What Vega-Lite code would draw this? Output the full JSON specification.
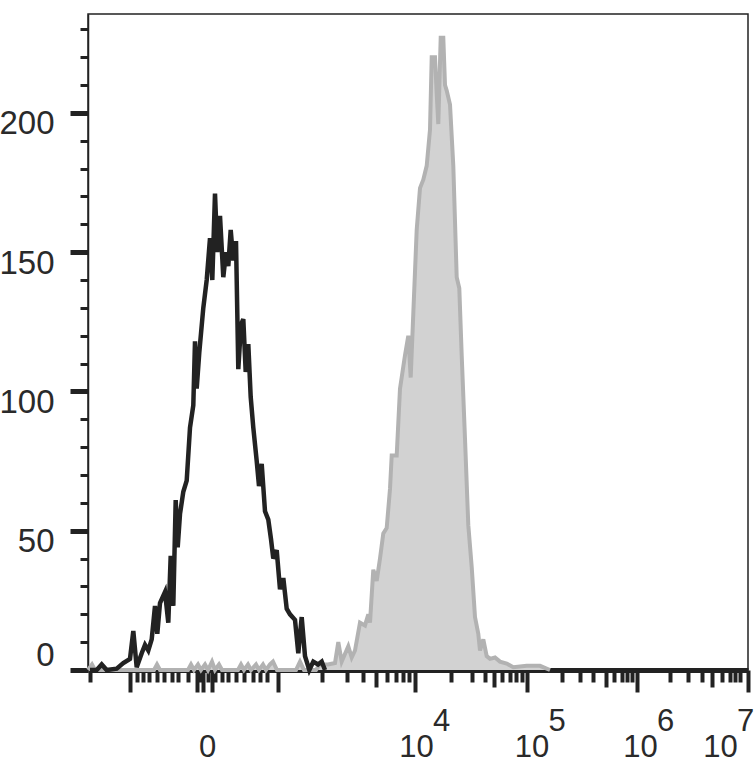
{
  "$schema": "https://vega.github.io/schema/vega-lite/v6.json",
  "width": 660,
  "height": 656,
  "autosize": {"type": "none"},
  "padding": {"left": 88, "top": 14, "right": 8, "bottom": 110},
  "background": "white",
  "config": {
    "view": {"stroke": "#222222", "strokeWidth": 1.5},
    "axis": {"grid": false, "title": null, "labelFont": "Liberation Sans Narrow, Liberation Sans, sans-serif", "labelColor": "#2a2a2a", "labelOverlap": false, "labelFlush": false}
  },
  "datasets": {
    "stained": [
      {"ch": 0, "count": 0}, {"ch": 4, "count": 2}, {"ch": 7, "count": 0}, {"ch": 66, "count": 0}, {"ch": 69, "count": 2}, {"ch": 72, "count": 0},
      {"ch": 100, "count": 0}, {"ch": 103, "count": 2}, {"ch": 106, "count": 0}, {"ch": 110, "count": 2}, {"ch": 113, "count": 0}, {"ch": 117, "count": 2},
      {"ch": 120, "count": 0}, {"ch": 124, "count": 3}, {"ch": 127, "count": 0}, {"ch": 131, "count": 2}, {"ch": 134, "count": 0}, {"ch": 150, "count": 0},
      {"ch": 153, "count": 2}, {"ch": 156, "count": 0}, {"ch": 160, "count": 2}, {"ch": 163, "count": 0}, {"ch": 168, "count": 2}, {"ch": 171, "count": 0},
      {"ch": 175, "count": 2}, {"ch": 178, "count": 0}, {"ch": 182, "count": 2}, {"ch": 185, "count": 3}, {"ch": 189, "count": 0}, {"ch": 208, "count": 0},
      {"ch": 212, "count": 3}, {"ch": 216, "count": 0}, {"ch": 228, "count": 0}, {"ch": 232, "count": 2}, {"ch": 240, "count": 2}, {"ch": 247, "count": 2.5},
      {"ch": 250.3, "count": 10}, {"ch": 253.7, "count": 3}, {"ch": 260.3, "count": 8.5}, {"ch": 263.7, "count": 4.5}, {"ch": 267, "count": 7},
      {"ch": 272, "count": 17}, {"ch": 277, "count": 16}, {"ch": 280.3, "count": 20}, {"ch": 282, "count": 17}, {"ch": 285.3, "count": 36},
      {"ch": 288.7, "count": 32}, {"ch": 292, "count": 40}, {"ch": 295.3, "count": 49}, {"ch": 298.7, "count": 51}, {"ch": 302, "count": 65},
      {"ch": 303.7, "count": 77}, {"ch": 308.7, "count": 77}, {"ch": 312, "count": 101}, {"ch": 317, "count": 113}, {"ch": 320.3, "count": 120},
      {"ch": 322.7, "count": 105}, {"ch": 325.3, "count": 128}, {"ch": 328.7, "count": 158}, {"ch": 332, "count": 173}, {"ch": 335.3, "count": 176},
      {"ch": 338.7, "count": 181}, {"ch": 342, "count": 194}, {"ch": 343.7, "count": 220}, {"ch": 347, "count": 220}, {"ch": 348.7, "count": 207},
      {"ch": 350.3, "count": 196}, {"ch": 352.7, "count": 227}, {"ch": 355.3, "count": 227}, {"ch": 357, "count": 210}, {"ch": 358.7, "count": 208},
      {"ch": 362, "count": 203}, {"ch": 365.3, "count": 181}, {"ch": 368.7, "count": 141}, {"ch": 371.3, "count": 137}, {"ch": 373.7, "count": 113},
      {"ch": 377, "count": 83}, {"ch": 380.3, "count": 52}, {"ch": 383.7, "count": 37}, {"ch": 387, "count": 19}, {"ch": 390.3, "count": 13},
      {"ch": 392, "count": 7}, {"ch": 395.3, "count": 11}, {"ch": 398.7, "count": 5}, {"ch": 402, "count": 4}, {"ch": 407, "count": 4.5},
      {"ch": 412, "count": 3}, {"ch": 418.7, "count": 2.3}, {"ch": 425.3, "count": 1}, {"ch": 438.7, "count": 1.5}, {"ch": 452, "count": 1.5}, {"ch": 462, "count": 0}
    ],
    "control": [
      {"ch": 2, "count": 0}, {"ch": 8.7, "count": 0}, {"ch": 13.7, "count": 2}, {"ch": 18.7, "count": 0}, {"ch": 28.7, "count": 0.5}, {"ch": 35.3, "count": 2.5},
      {"ch": 42, "count": 4}, {"ch": 45.3, "count": 14}, {"ch": 48.7, "count": 1}, {"ch": 53.7, "count": 6}, {"ch": 57, "count": 9}, {"ch": 60.3, "count": 7},
      {"ch": 63.7, "count": 11}, {"ch": 67, "count": 23}, {"ch": 69.3, "count": 13}, {"ch": 72, "count": 24}, {"ch": 77, "count": 28}, {"ch": 80.3, "count": 17},
      {"ch": 82.7, "count": 41}, {"ch": 85.3, "count": 23}, {"ch": 87.7, "count": 61}, {"ch": 89.7, "count": 44}, {"ch": 92, "count": 56}, {"ch": 95.3, "count": 64},
      {"ch": 98.7, "count": 68}, {"ch": 102, "count": 87}, {"ch": 105.3, "count": 95}, {"ch": 107, "count": 118}, {"ch": 108.7, "count": 101},
      {"ch": 111.3, "count": 114}, {"ch": 115.3, "count": 130}, {"ch": 118.7, "count": 140}, {"ch": 122, "count": 155}, {"ch": 124.3, "count": 140},
      {"ch": 127, "count": 171}, {"ch": 129.3, "count": 150}, {"ch": 132, "count": 163}, {"ch": 135.3, "count": 141}, {"ch": 138, "count": 150},
      {"ch": 140.3, "count": 145}, {"ch": 142.7, "count": 158}, {"ch": 145.3, "count": 147}, {"ch": 148, "count": 154}, {"ch": 150.3, "count": 108},
      {"ch": 153, "count": 124}, {"ch": 155.3, "count": 126}, {"ch": 157.7, "count": 107}, {"ch": 160.3, "count": 117}, {"ch": 162.7, "count": 98},
      {"ch": 165.3, "count": 87}, {"ch": 168.7, "count": 75}, {"ch": 171, "count": 66}, {"ch": 173.7, "count": 74}, {"ch": 177, "count": 57},
      {"ch": 180.3, "count": 54}, {"ch": 183, "count": 47}, {"ch": 185.3, "count": 40}, {"ch": 188.7, "count": 43}, {"ch": 192, "count": 29},
      {"ch": 195.3, "count": 33}, {"ch": 198.7, "count": 22}, {"ch": 202, "count": 20}, {"ch": 207, "count": 18}, {"ch": 210.3, "count": 6},
      {"ch": 213.7, "count": 19}, {"ch": 217, "count": 5}, {"ch": 221.3, "count": 0}, {"ch": 225.3, "count": 3}, {"ch": 230, "count": 2},
      {"ch": 233.7, "count": 3}, {"ch": 237, "count": 0}
    ]
  },
  "encoding": {
    "y": {
      "field": "count", "type": "quantitative",
      "scale": {"domain": [0, 235.5], "nice": false},
      "axis": {
        "values": [0, 10, 20, 30, 40, 50, 60, 70, 80, 90, 100, 110, 120, 130, 140, 150, 160, 170, 180, 190, 200, 210, 220, 230],
        "labelExpr": "datum.value % 50 === 0 ? datum.label : ''",
        "domain": true, "domainColor": "#222222", "domainWidth": 1.5,
        "tickColor": "#222222",
        "tickSize": {"condition": {"test": "datum.value % 50 === 0", "value": 18}, "value": 8},
        "tickWidth": {"condition": {"test": "datum.value % 50 === 0", "value": 5}, "value": 3},
        "labelFontSize": 33,
        "labelPadding": 16,
        "labelOffset": -5,
        "labelBaseline": {"condition": {"test": "datum.value === 0", "value": "alphabetic"}, "value": "top"}
      }
    }
  },
  "layer": [
    {
      "data": {"name": "stained"},
      "mark": {"type": "area", "color": "#d2d2d2"},
      "encoding": {
        "x": {
          "field": "ch", "type": "quantitative",
          "scale": {"domain": [0, 660], "nice": false, "zero": false},
          "axis": {
            "orient": "bottom",
            "values": [2, 42, 48.7, 55.3, 61.3, 68.7, 76, 83.7, 90.3, 99.7, 108.7, 112, 115.3, 119.5, 123.7, 127, 133.7, 140.3, 148, 156.3, 164.7, 172, 178.7, 190.3, 233.7, 259.3, 275.3, 288, 298.7, 308, 315.3, 321, 327, 363, 383.7, 397, 406, 414, 421.6, 428, 433.7, 439, 473.7, 492, 504.7, 518, 526, 533.7, 539.3, 544, 548.7, 582, 600.3, 613.7, 623.7, 633.7, 642, 647, 652, 660],
            "labels": false,
            "domain": true, "domainColor": "#222222", "domainWidth": 5,
            "ticks": true, "tickColor": "#222222", "tickWidth": 4,
            "tickSize": {
              "condition": [
                {"test": "indexof([42, 108.7, 115.3, 123.7, 190.3, 327, 439, 548.7, 660], datum.value) >= 0", "value": 22},
                {"test": "indexof([288, 406, 518, 623.7], datum.value) >= 0", "value": 17}
              ],
              "value": 12
            }
          }
        }
      }
    },
    {
      "data": {"name": "stained"},
      "mark": {"type": "line", "color": "#b2b2b2", "strokeWidth": 4},
      "encoding": {
        "x": {
          "field": "ch", "type": "quantitative",
          "axis": {
            "orient": "bottom",
            "values": [353, 468.5, 577, 657],
            "labelExpr": "datum.value < 400 ? '4' : datum.value < 500 ? '5' : datum.value < 600 ? '6' : '7'",
            "domain": false, "ticks": false, "tickSize": 0,
            "labelFontSize": 31, "labelPadding": 36, "labelBaseline": "top", "labelAlign": "center"
          }
        }
      }
    },
    {
      "data": {"name": "control"},
      "mark": {"type": "line", "color": "#222222", "strokeWidth": 4.5},
      "encoding": {
        "x": {
          "field": "ch", "type": "quantitative",
          "axis": {
            "orient": "bottom",
            "values": [119, 328, 443.5, 552, 632],
            "labelExpr": "datum.value < 200 ? '0' : '10'",
            "domain": false, "ticks": false, "tickSize": 0,
            "labelFontSize": 31, "labelPadding": 62, "labelBaseline": "top", "labelAlign": "center"
          }
        }
      }
    }
  ],
  "resolve": {"axis": {"x": "independent"}}
}
